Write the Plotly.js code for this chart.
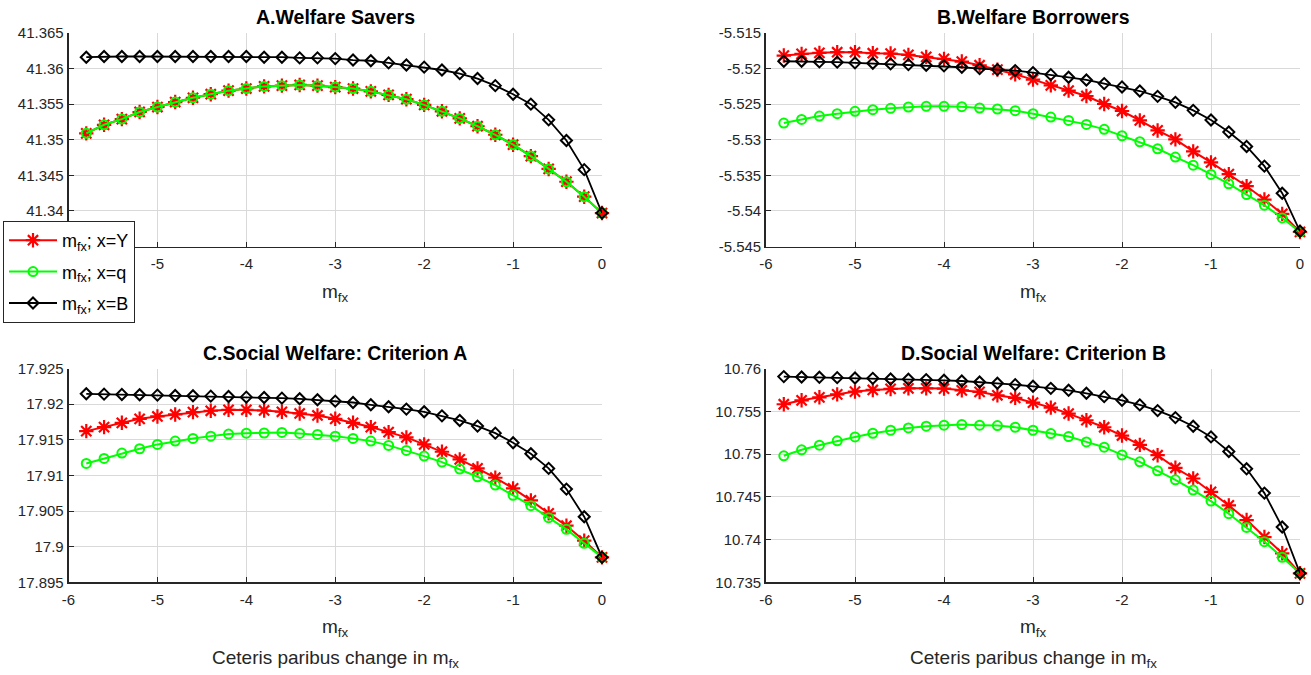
<!DOCTYPE html>
<html>
<head>
<meta charset="utf-8">
<script src="https://cdn.plot.ly/plotly-3.0.1.min.js"></script>
<style>
  html, body { margin: 0; padding: 0; background: #fff; }
  #chart { width: 1311px; height: 675px; }
</style>
</head>
<body>
<div id="chart"></div>
<script>
// ceteris paribus change in m_fx (common x for all panels)
var mfx = [-5.8, -5.6, -5.4, -5.2, -5.0, -4.8, -4.6, -4.4, -4.2, -4.0,
           -3.8, -3.6, -3.4, -3.2, -3.0, -2.8, -2.6, -2.4, -2.2, -2.0,
           -1.8, -1.6, -1.4, -1.2, -1.0, -0.8, -0.6, -0.4, -0.2, 0];

// A. welfare savers
var saversY = [41.3509, 41.3521, 41.3529, 41.3539, 41.3546, 41.3553, 41.3559, 41.3564, 41.3569, 41.3572,
               41.3575, 41.3576, 41.3577, 41.3576, 41.3574, 41.3572, 41.3568, 41.3563, 41.3557, 41.3549,
               41.3540, 41.3530, 41.3519, 41.3507, 41.3493, 41.3477, 41.3459, 41.3441, 41.3420, 41.3397];
var saversQ = [41.3509, 41.3521, 41.3529, 41.3539, 41.3546, 41.3553, 41.3559, 41.3564, 41.3569, 41.3572,
               41.3575, 41.3576, 41.3577, 41.3576, 41.3574, 41.3572, 41.3568, 41.3563, 41.3557, 41.3549,
               41.3540, 41.3530, 41.3519, 41.3507, 41.3493, 41.3477, 41.3459, 41.3441, 41.3420, 41.3397];
var saversB = [41.3616, 41.3617, 41.3617, 41.3617, 41.3617, 41.3617, 41.3617, 41.3617, 41.3617, 41.3617,
               41.3616, 41.3616, 41.3615, 41.3615, 41.3614, 41.3612, 41.3611, 41.3608, 41.3605, 41.3602,
               41.3598, 41.3593, 41.3586, 41.3576, 41.3564, 41.3550, 41.3528, 41.3499, 41.3458, 41.3397];

// B. welfare borrowers
var borrowY = [-5.51817, -5.51793, -5.51779, -5.51770, -5.51770, -5.51784, -5.51789, -5.51808, -5.51836, -5.51864,
               -5.51901, -5.51953, -5.52014, -5.52080, -5.52155, -5.52235, -5.52310, -5.52385, -5.52498, -5.52596,
               -5.52728, -5.52869, -5.52995, -5.53164, -5.53319, -5.53484, -5.53653, -5.53840, -5.54042, -5.54296];
var borrowQ = [-5.52765, -5.52714, -5.52667, -5.52634, -5.52601, -5.52577, -5.52559, -5.52540, -5.52531, -5.52531,
               -5.52535, -5.52554, -5.52568, -5.52592, -5.52634, -5.52681, -5.52728, -5.52784, -5.52854, -5.52944,
               -5.53028, -5.53127, -5.53244, -5.53357, -5.53488, -5.53620, -5.53770, -5.53920, -5.54099, -5.54296];
var borrowB = [-5.51897, -5.51897, -5.51906, -5.51910, -5.51920, -5.51925, -5.51934, -5.51944, -5.51953, -5.51962,
               -5.51981, -5.52000, -5.52014, -5.52028, -5.52056, -5.52085, -5.52122, -5.52160, -5.52211, -5.52258,
               -5.52315, -5.52390, -5.52474, -5.52587, -5.52723, -5.52892, -5.53094, -5.53371, -5.53751, -5.54286];

// C. social welfare, criterion A
var critAY = [17.91621, 17.91678, 17.91738, 17.91794, 17.91827, 17.91855, 17.91888, 17.91907, 17.91921, 17.91921,
              17.91911, 17.91893, 17.91869, 17.91841, 17.91794, 17.91738, 17.91678, 17.91607, 17.91533, 17.91435,
              17.91332, 17.91224, 17.91098, 17.90967, 17.90818, 17.90650, 17.90467, 17.90294, 17.90084, 17.89850];
var critAQ = [17.91168, 17.91238, 17.91313, 17.91374, 17.91435, 17.91481, 17.91519, 17.91551, 17.91580, 17.91593,
              17.91595, 17.91603, 17.91589, 17.91575, 17.91551, 17.91519, 17.91481, 17.91421, 17.91350, 17.91271,
              17.91187, 17.91089, 17.90981, 17.90864, 17.90720, 17.90575, 17.90407, 17.90243, 17.90047, 17.89850];
var critAB = [17.92145, 17.92140, 17.92136, 17.92131, 17.92126, 17.92121, 17.92117, 17.92112, 17.92107, 17.92098,
              17.92093, 17.92084, 17.92075, 17.92061, 17.92042, 17.92023, 17.91991, 17.91963, 17.91930, 17.91893,
              17.91836, 17.91771, 17.91692, 17.91593, 17.91458, 17.91304, 17.91098, 17.90808, 17.90420, 17.89850];

// D. social welfare, criterion B
var critBY = [10.75582, 10.75628, 10.75663, 10.75698, 10.75730, 10.75749, 10.75761, 10.75768, 10.75768, 10.75765,
              10.75745, 10.75726, 10.75687, 10.75656, 10.75601, 10.75543, 10.75473, 10.75395, 10.75313, 10.75216,
              10.75107, 10.74986, 10.74839, 10.74714, 10.74558, 10.74399, 10.74228, 10.74029, 10.73839, 10.73605];
var critBQ = [10.74979, 10.75049, 10.75103, 10.75154, 10.75200, 10.75243, 10.75278, 10.75305, 10.75325, 10.75337,
              10.75344, 10.75337, 10.75333, 10.75313, 10.75278, 10.75239, 10.75204, 10.75142, 10.75080, 10.74990,
              10.74909, 10.74804, 10.74698, 10.74578, 10.74450, 10.74302, 10.74142, 10.73975, 10.73792, 10.73605];
var critBB = [10.75905, 10.75901, 10.75897, 10.75893, 10.75889, 10.75885, 10.75877, 10.75874, 10.75870, 10.75862,
              10.75854, 10.75842, 10.75827, 10.75811, 10.75792, 10.75768, 10.75745, 10.75710, 10.75671, 10.75628,
              10.75574, 10.75508, 10.75426, 10.75325, 10.75200, 10.75029, 10.74827, 10.74543, 10.74146, 10.73605];

// tick labels (panel A's lowest ones sit under the legend in the original)
var xTickVals = [-6, -5, -4, -3, -2, -1, 0];
var xTickText = ['-6', '-5', '-4', '-3', '-2', '-1', '0'];
var xTickTextA = ['', '-5', '-4', '-3', '-2', '-1', '0'];
var yTicksA = [41.34, 41.345, 41.35, 41.355, 41.36, 41.365];
var yTextA  = ['41.34', '41.345', '41.35', '41.355', '41.36', '41.365'];
var yTicksB = [-5.545, -5.54, -5.535, -5.53, -5.525, -5.52, -5.515];
var yTextB  = ['-5.545', '-5.54', '-5.535', '-5.53', '-5.525', '-5.52', '-5.515'];
var yTicksC = [17.895, 17.9, 17.905, 17.91, 17.915, 17.92, 17.925];
var yTextC  = ['17.895', '17.9', '17.905', '17.91', '17.915', '17.92', '17.925'];
var yTicksD = [10.735, 10.74, 10.745, 10.75, 10.755, 10.76];
var yTextD  = ['10.735', '10.74', '10.745', '10.75', '10.755', '10.76'];

var panelTitles = ['A.Welfare Savers', 'B.Welfare Borrowers',
                   'C.Social Welfare: Criterion A', 'D.Social Welfare: Criterion B'];
var seriesNames = ['m<sub>fx</sub>; x=Y', 'm<sub>fx</sub>; x=q', 'm<sub>fx</sub>; x=B'];

var W = 1311, H = 675;
var FONT = 'Liberation Sans, Arial, Helvetica, sans-serif';
var INK = '#262626';

// pixel boxes of the four axes  [left, right, top, bottom]
var boxes = [
  [68.5, 602, 33, 246.5],
  [766, 1300, 33, 246.5],
  [68.5, 602, 368.5, 582.3],
  [766, 1300, 368.5, 582.3]
];

var styles = [
  {color: '#ff0000', symbol: 'asterisk-open', size: 12, lw: 2, mw: 2.2},
  {color: '#00ff00', symbol: 'circle-open', size: 9, lw: 2, mw: 2},
  {color: '#000000', symbol: 'diamond-open', size: 8.5, lw: 1.8, mw: 2}
];

var panelData = [
  [saversY, saversQ, saversB],
  [borrowY, borrowQ, borrowB],
  [critAY, critAQ, critAB],
  [critBY, critBQ, critBB]
];
var yRanges = [[41.335, 41.365], [-5.545, -5.515], [17.895, 17.925], [10.735, 10.76]];
var yTicks = [[yTicksA, yTextA], [yTicksB, yTextB], [yTicksC, yTextC], [yTicksD, yTextD]];

var traces = [];
panelData.forEach(function (series, p) {
  var sfx = p === 0 ? '' : String(p + 1);
  series.forEach(function (vals, s) {
    var st = styles[s];
    traces.push({
      x: mfx,
      y: vals,
      xaxis: 'x' + sfx,
      yaxis: 'y' + sfx,
      type: 'scatter',
      mode: 'lines+markers',
      name: seriesNames[s],
      legendgroup: 'g' + s,
      showlegend: p === 0,
      cliponaxis: false,
      line: {color: st.color, width: st.lw},
      marker: {symbol: st.symbol, size: st.size, color: st.color,
               line: {color: st.color, width: st.mw}}
    });
  });
});

var layout = {
  width: W,
  height: H,
  margin: {l: 0, r: 0, t: 0, b: 0},
  paper_bgcolor: '#ffffff',
  plot_bgcolor: '#ffffff',
  font: {family: FONT, size: 15, color: INK},
  showlegend: true,
  legend: {
    x: 3 / W, y: 1 - 221 / H, xanchor: 'left', yanchor: 'top',
    bgcolor: '#ffffff', bordercolor: INK, borderwidth: 1,
    font: {family: FONT, size: 18, color: '#000'},
    itemwidth: 48, tracegroupgap: 5
  },
  annotations: []
};

boxes.forEach(function (b, p) {
  var sfx = p === 0 ? '' : String(p + 1);
  var xd = [b[0] / W, b[1] / W];
  var yd = [1 - b[3] / H, 1 - b[2] / H];
  layout['xaxis' + sfx] = {
    domain: xd, anchor: 'y' + sfx, range: [-6, 0],
    tickmode: 'array', tickvals: xTickVals, ticktext: p === 0 ? xTickTextA : xTickText,
    ticks: 'inside', ticklen: 5, tickwidth: 1, tickcolor: INK,
    ticklabelstandoff: 3,
    showline: true, linecolor: INK, linewidth: 1.8,
    showgrid: true, gridcolor: '#d9d9d9', gridwidth: 1, zeroline: false,
    tickfont: {family: FONT, size: 15, color: INK}, fixedrange: true
  };
  layout['yaxis' + sfx] = {
    domain: yd, anchor: 'x' + sfx, range: yRanges[p],
    tickmode: 'array', tickvals: yTicks[p][0], ticktext: yTicks[p][1],
    ticks: 'inside', ticklen: 5, tickwidth: 1, tickcolor: INK,
    showline: true, linecolor: INK, linewidth: 1.8,
    showgrid: true, gridcolor: '#d9d9d9', gridwidth: 1, zeroline: false,
    tickfont: {family: FONT, size: 15, color: INK}, fixedrange: true
  };

  var cx = (b[0] + b[1]) / 2 / W;
  layout.annotations.push({
    text: '<b>' + panelTitles[p] + '</b>', xref: 'paper', yref: 'paper',
    x: cx, y: 1 - (b[2] - 16) / H, xanchor: 'center', yanchor: 'middle',
    showarrow: false, font: {family: FONT, size: 19.5, color: '#000'}
  });
  layout.annotations.push({
    text: 'm<sub>fx</sub>', xref: 'paper', yref: 'paper',
    x: cx, y: 1 - (b[3] + 46) / H, xanchor: 'center', yanchor: 'middle',
    showarrow: false, font: {family: FONT, size: 19, color: INK}
  });
  if (p >= 2) {
    layout.annotations.push({
      text: 'Ceteris paribus change in m<sub>fx</sub>', xref: 'paper', yref: 'paper',
      x: cx, y: 1 - (b[3] + 77) / H, xanchor: 'center', yanchor: 'middle',
      showarrow: false, font: {family: FONT, size: 19, color: INK}
    });
  }
});

Plotly.newPlot('chart', traces, layout, {displayModeBar: false, staticPlot: true});
</script>
</body>
</html>
